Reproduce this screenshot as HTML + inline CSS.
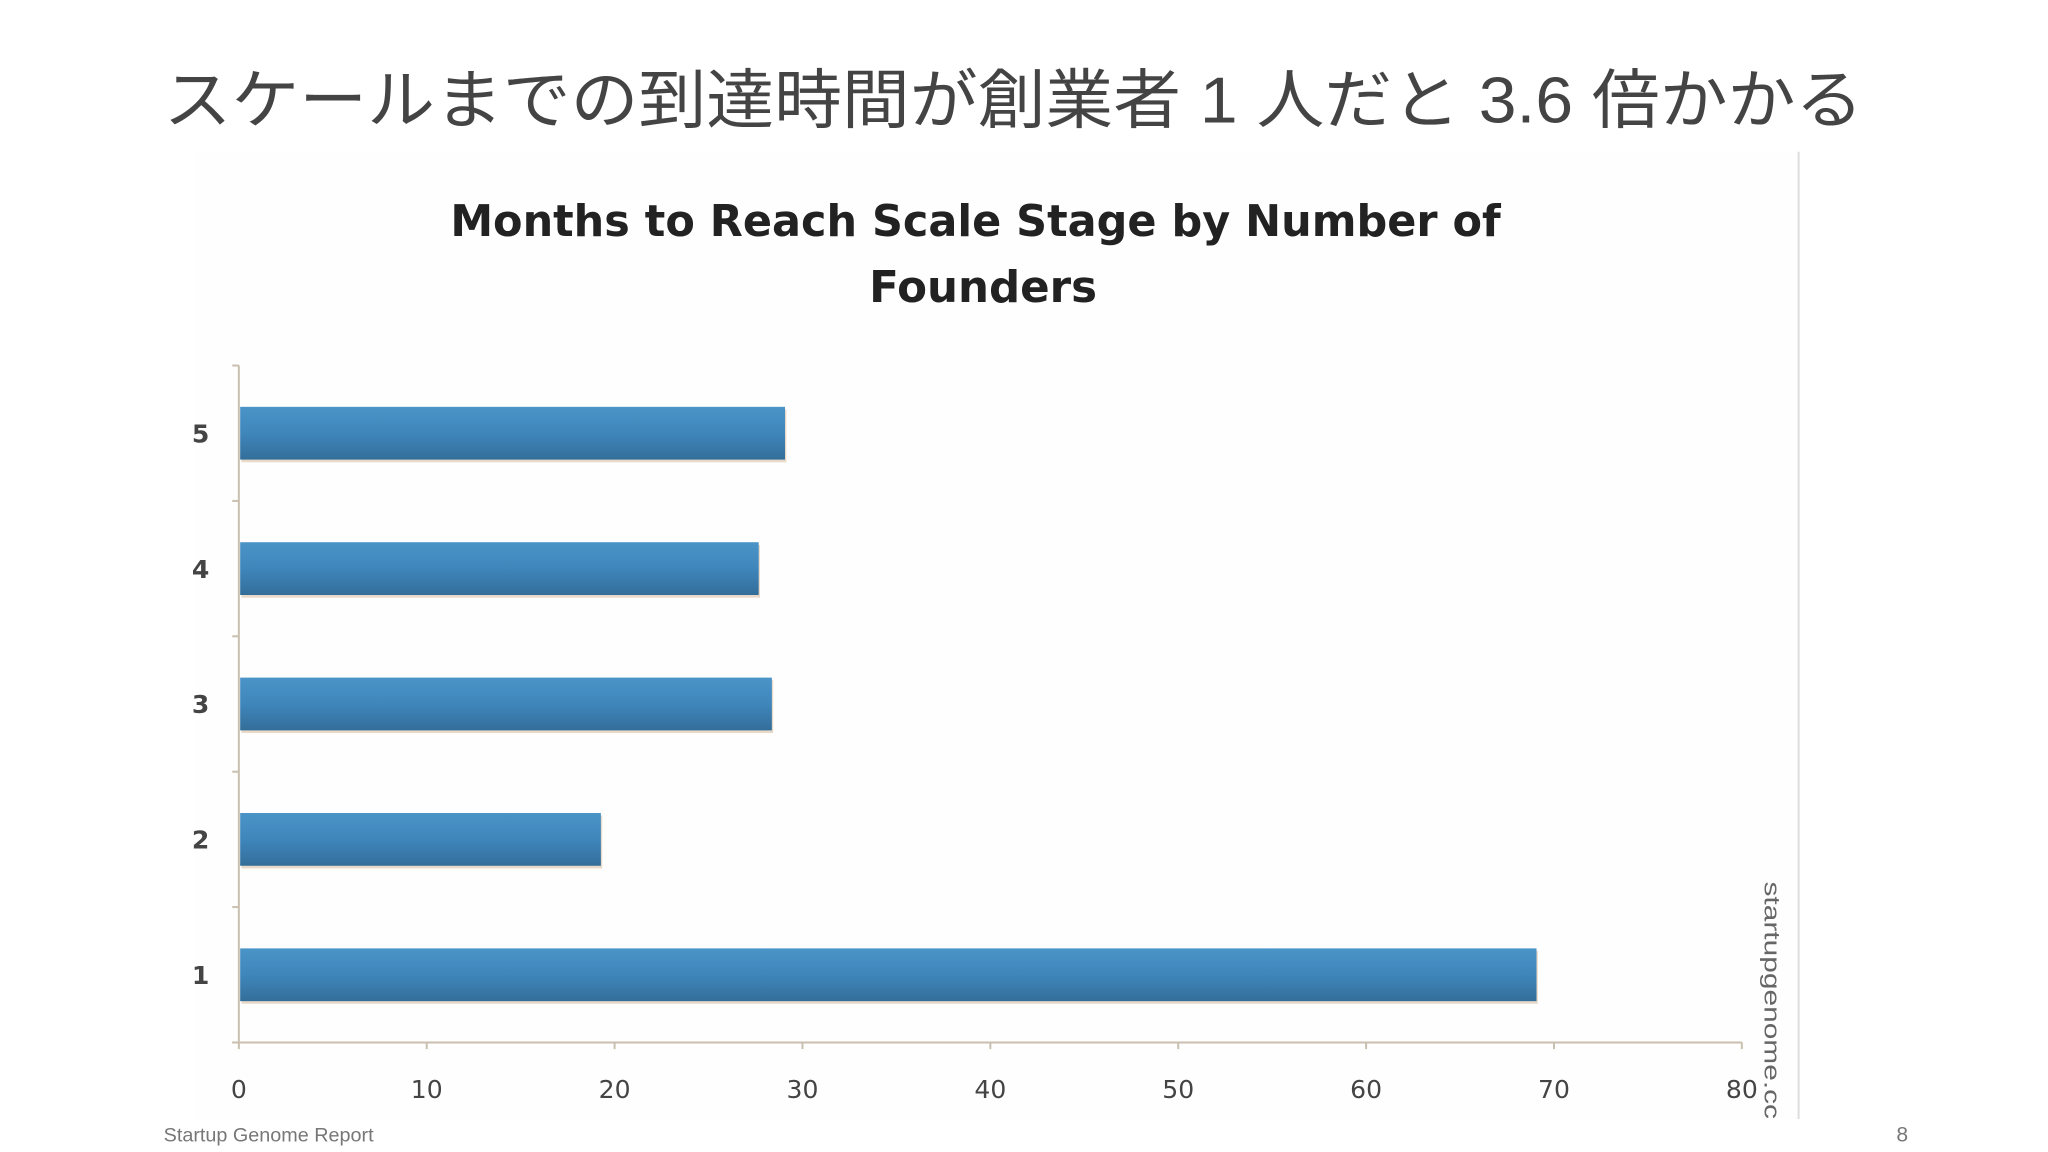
<!DOCTYPE html>
<html><head><meta charset="utf-8"><style>
html,body{margin:0;padding:0;background:#fff;}
svg{display:block;}
</style></head><body>
<svg id="s" width="2048" height="1152" viewBox="0 0 1552 873" preserveAspectRatio="none" xmlns="http://www.w3.org/2000/svg">
<defs>
<linearGradient id="bg" x1="0" y1="0" x2="0" y2="1">
<stop offset="0" stop-color="#4a94c8"/><stop offset="0.5" stop-color="#3f86bb"/><stop offset="1" stop-color="#336e9a"/>
</linearGradient>
</defs>
<text x="124" y="93" font-size="49" fill="#444" font-family="'Liberation Sans','Noto Sans CJK JP',sans-serif" textLength="1288" lengthAdjust="spacingAndGlyphs">スケールまでの到達時間が創業者 1 人だと 3.6 倍かかる</text>
<rect x="148" y="115" width="1215" height="733" fill="#fefefe"/>
<line x1="1363" y1="115" x2="1363" y2="848" stroke="#ddd" stroke-width="1.5"/>
<text font-family="'DejaVu Sans','Liberation Sans',sans-serif" font-weight="bold" font-size="33" fill="#222" text-anchor="middle">
<tspan x="745" y="179" textLength="796" lengthAdjust="spacingAndGlyphs">Months to Reach Scale Stage by Number of</tspan>
<tspan x="745" y="229">Founders</tspan>
</text>
<g id="chart"></g>
<text transform="translate(1337,668) rotate(90)" font-family="'Liberation Sans',sans-serif" font-size="17" fill="#666" textLength="180" lengthAdjust="spacingAndGlyphs">startupgenome.cc</text>
<text x="124" y="865" font-family="'Liberation Sans',sans-serif" font-size="15" fill="#777">Startup Genome Report</text>
<text x="1446" y="865" text-anchor="end" font-family="'Liberation Sans',sans-serif" font-size="16" fill="#777">8</text>
</svg>
<script>
const categories = ["1","2","3","4","5"];
const values = [69, 19.2, 28.3, 27.6, 29];
const xTicks = [0,10,20,30,40,50,60,70,80];
const NS="http://www.w3.org/2000/svg";
const g=document.getElementById('chart');
const x0=181,x1=1320,yTop=277,yBot=790,xMax=80;
const xs=v=>x0+(v/xMax)*(x1-x0);
const band=(yBot-yTop)/categories.length;
const yc=i=>yBot-band*(i+0.5);
function mk(t,a){const e=document.createElementNS(NS,t);for(const k in a)e.setAttribute(k,a[k]);g.appendChild(e);return e;}
let e;
e=mk('line',{x1:x0,y1:yTop,x2:x0,y2:yBot,stroke:'#c9bfae','stroke-width':1.5});


e=mk('line',{x1:x0-5,y1:yBot,x2:x1,y2:yBot,stroke:'#c9bfae','stroke-width':1.5});


for(let i=0;i<=categories.length;i++){
  e=mk('line',{x1:x0-5,y1:yBot-band*i,x2:x0,y2:yBot-band*i,stroke:'#c9bfae','stroke-width':1.5});
  
  
}
xTicks.forEach(v=>{
  e=mk('line',{x1:xs(v),y1:yBot,x2:xs(v),y2:yBot+5,stroke:'#c9bfae','stroke-width':1.5});
  
  
  e=mk('text',{x:xs(v),y:yBot+42,'text-anchor':'middle','font-family':"'DejaVu Sans','Liberation Sans',sans-serif",'font-size':19,fill:'#444'});
  e.textContent=v;
  
  
});
categories.forEach((c,i)=>{
  const h=40,y=yc(i)-h/2;
  e=mk('rect',{x:x0+2,y:y+2,width:xs(values[i])-x0,height:h,fill:'#e8d9c8'});
  
  
  e=mk('rect',{x:x0+1,y:y,width:xs(values[i])-x0,height:h,fill:'url(#bg)'});
  
  
  e=mk('text',{x:152,y:yc(i)+7,'text-anchor':'middle','font-family':"'DejaVu Sans','Liberation Sans',sans-serif",'font-weight':'bold','font-size':19,fill:'#444'});
  e.textContent=c;
  
  
});
</script>
</body></html>
